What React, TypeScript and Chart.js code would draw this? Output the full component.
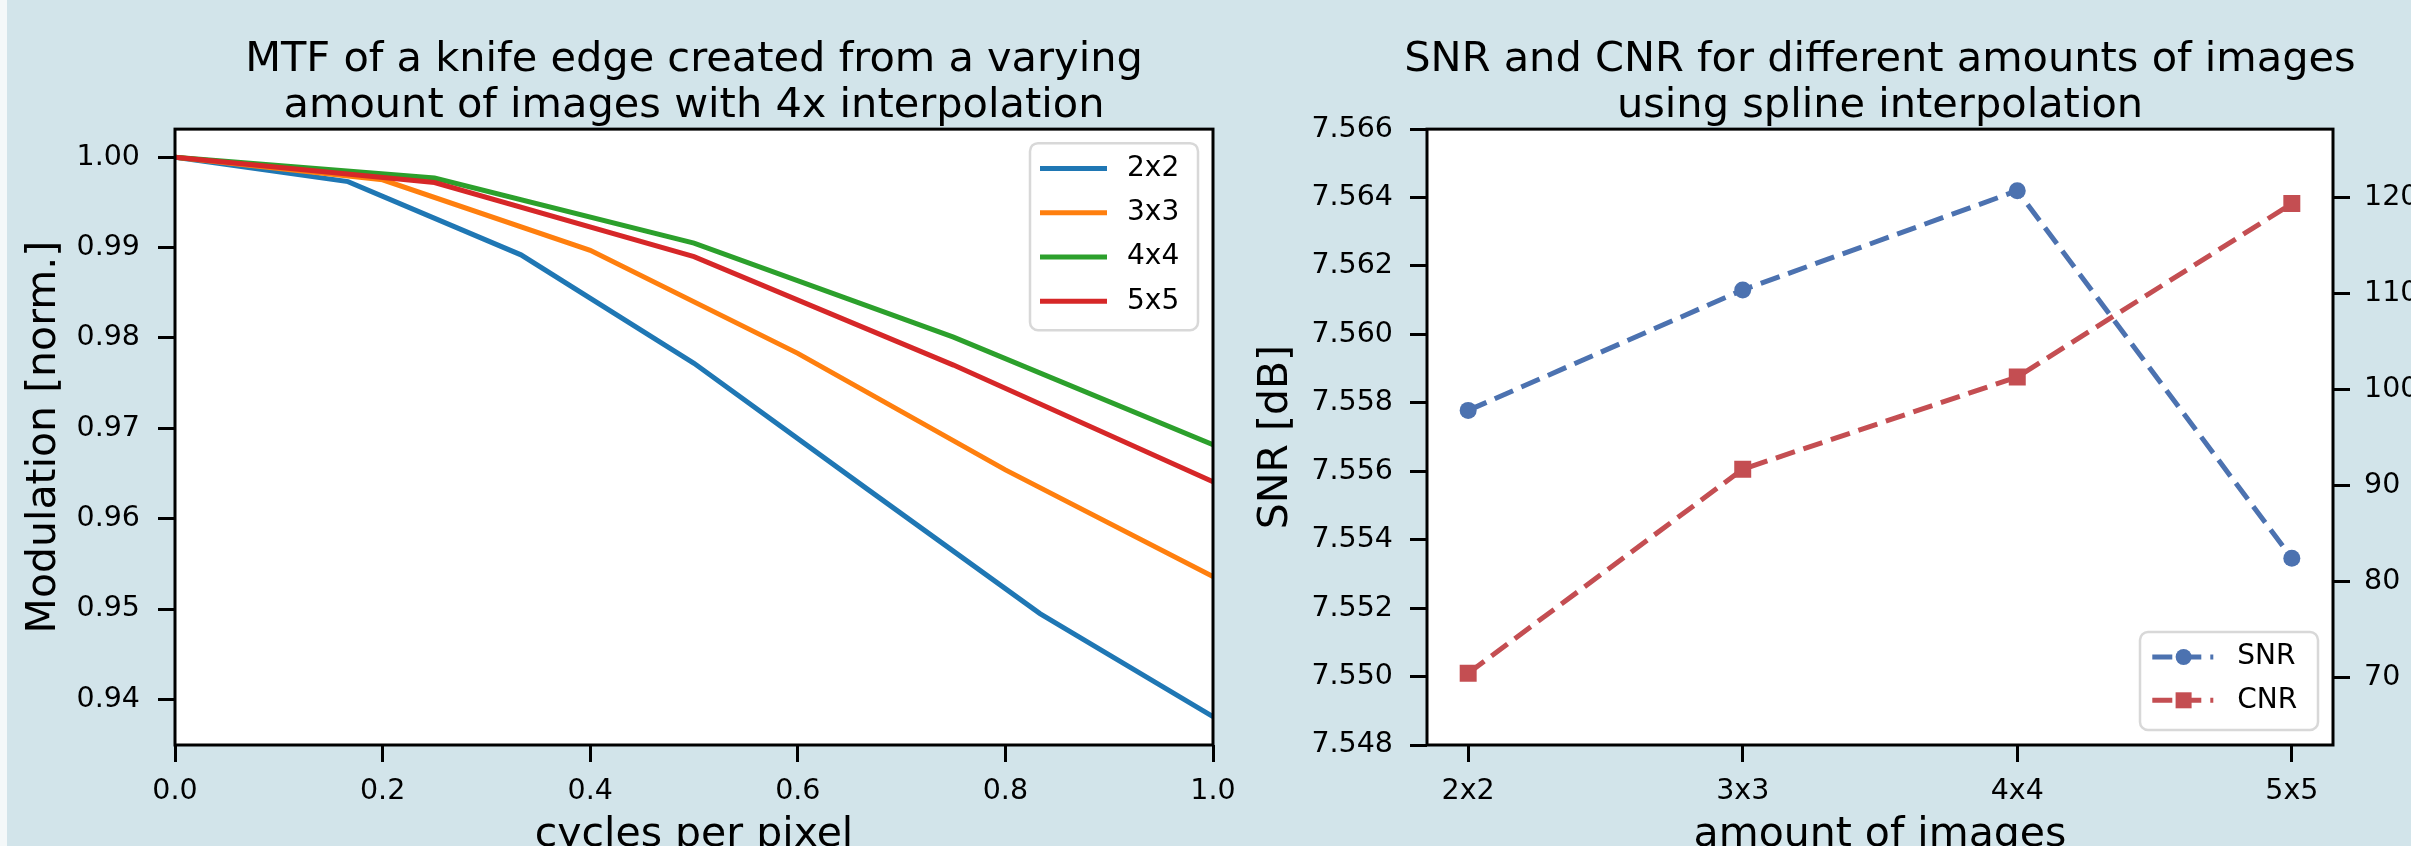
import React, { useEffect, useRef } from 'react';
import { Chart, registerables } from 'chart.js';

Chart.register(...registerables);

const FONT = '"DejaVu Sans", "Liberation Sans", Arial, sans-serif';
const PAGE_BG = '#d2e4ea';
const STRIP_BG = '#f4f8f9';

// ---------- Left chart: MTF ----------
const mtfTitle = ['MTF of a knife edge created from a varying', 'amount of images with 4x interpolation'];
const mtfXLabel = 'cycles per pixel';
const mtfYLabel = 'Modulation [norm.]';
const mtfLabels = ['2x2', '3x3', '4x4', '5x5'];
const mtfColors = ['#1f77b4', '#ff7f0e', '#2ca02c', '#d62728'];
const freq2x2 = [0, 0.1667, 0.3333, 0.5, 0.6667, 0.8333, 1.0];
const mtf2x2 = [1.0, 0.9973, 0.9892, 0.9772, 0.9633, 0.9495, 0.9381];
const freq3x3 = [0, 0.2, 0.4, 0.6, 0.8, 1.0];
const mtf3x3 = [1.0, 0.9975, 0.9897, 0.9783, 0.9654, 0.9536];
const freq4x4 = [0, 0.25, 0.5, 0.75, 1.0];
const mtf4x4 = [1.0, 0.9977, 0.9905, 0.9801, 0.9682];
const freq5x5 = [0, 0.25, 0.5, 0.75, 1.0];
const mtf5x5 = [1.0, 0.9972, 0.989, 0.977, 0.9641];
const mtfXTicks = [0, 0.2, 0.4, 0.6, 0.8, 1.0];
const mtfYTicks = [0.94, 0.95, 0.96, 0.97, 0.98, 0.99, 1.0];

// ---------- Right chart: SNR / CNR ----------
const snrTitle = ['SNR and CNR for different amounts of images', 'using spline interpolation'];
const snrXLabel = 'amount of images';
const snrYLabel = 'SNR [dB]';
const imageCounts = ['2x2', '3x3', '4x4', '5x5'];
const snrValues = [7.55778, 7.5613, 7.5642, 7.55346];
const cnrValues = [70.47, 91.7, 101.3, 119.35];
const snrTicks = [7.548, 7.55, 7.552, 7.554, 7.556, 7.558, 7.56, 7.562, 7.564, 7.566];
const cnrTicks = [70, 80, 90, 100, 110, 120];
const snrColor = '#4c72b0';
const cnrColor = '#c44e52';

const mtfFreqs = [freq2x2, freq3x3, freq4x4, freq5x5];
const mtfValues = [mtf2x2, mtf3x3, mtf4x4, mtf5x5];

const tickFont = { family: FONT, size: 28.5 };
const titleFont = { family: FONT, size: 41.5, lineHeight: 1.11, weight: 'normal' as const };
const axisFont = { family: FONT, size: 41, lineHeight: 1.12, weight: 'normal' as const };

const framePlugin = {
  id: 'frame',
  beforeDraw(chart: any) {
    const { ctx, chartArea: a } = chart;
    ctx.save();
    ctx.fillStyle = '#ffffff';
    ctx.fillRect(a.left, a.top, a.right - a.left, a.bottom - a.top);
    ctx.restore();
  },
  afterDatasetsDraw(chart: any) {
    const { ctx, chartArea: a } = chart;
    ctx.save();
    ctx.strokeStyle = '#000';
    ctx.lineWidth = 3;
    ctx.strokeRect(a.left, a.top, a.right - a.left, a.bottom - a.top);
    ctx.restore();
  },
};

function legendBox(ctx: CanvasRenderingContext2D, x: number, y: number, w: number, h: number) {
  ctx.save();
  ctx.beginPath();
  (ctx as any).roundRect(x, y, w, h, 8);
  ctx.fillStyle = 'rgba(255,255,255,0.85)';
  ctx.fill();
  ctx.strokeStyle = '#d8d8d8';
  ctx.lineWidth = 2.5;
  ctx.stroke();
  ctx.restore();
}

const mtfLegendPlugin = {
  id: 'mtfLegend',
  afterDraw(chart: any) {
    const { ctx, chartArea: a } = chart;
    const w = 168;
    const h = 187;
    const x0 = a.right - 15 - w;
    const y0 = a.top + 14;
    legendBox(ctx, x0, y0, w, h);
    ctx.save();
    ctx.font = `28px ${FONT}`;
    ctx.textBaseline = 'middle';
    ctx.textAlign = 'left';
    mtfLabels.forEach((label, i) => {
      const cy = y0 + 25.3 + i * 44.3;
      ctx.strokeStyle = mtfColors[i];
      ctx.lineWidth = 5;
      ctx.beginPath();
      ctx.moveTo(x0 + 10, cy);
      ctx.lineTo(x0 + 77, cy);
      ctx.stroke();
      ctx.fillStyle = '#000';
      ctx.fillText(label, x0 + 97, cy);
    });
    ctx.restore();
  },
};

const snrLegendPlugin = {
  id: 'snrLegend',
  afterDraw(chart: any) {
    const { ctx, chartArea: a } = chart;
    const w = 178;
    const h = 98;
    const x0 = a.right - 15 - w;
    const y0 = a.bottom - 15 - h;
    legendBox(ctx, x0, y0, w, h);
    const rows = [
      { label: 'SNR', color: snrColor, style: 'circle' },
      { label: 'CNR', color: cnrColor, style: 'rect' },
    ];
    ctx.save();
    ctx.font = `28px ${FONT}`;
    ctx.textBaseline = 'middle';
    ctx.textAlign = 'left';
    rows.forEach((r, i) => {
      const cy = y0 + 25 + i * 43.3;
      ctx.strokeStyle = r.color;
      ctx.lineWidth = 5;
      ctx.setLineDash([20, 9]);
      ctx.beginPath();
      ctx.moveTo(x0 + 12.3, cy);
      ctx.lineTo(x0 + 73.3, cy);
      ctx.stroke();
      ctx.setLineDash([]);
      ctx.fillStyle = r.color;
      const mx = x0 + 43.6;
      if (r.style === 'circle') {
        ctx.beginPath();
        ctx.arc(mx, cy, 8, 0, Math.PI * 2);
        ctx.fill();
      } else {
        ctx.fillRect(mx - 8, cy - 8, 16, 16);
      }
      ctx.fillStyle = '#000';
      ctx.fillText(r.label, x0 + 97.3, cy);
    });
    ctx.restore();
  },
};

const gridOpts = {
  drawOnChartArea: false,
  drawTicks: true,
  tickLength: 17,
  tickWidth: 3,
  tickColor: '#000',
};

function mtfConfig(): any {
  return {
    type: 'line',
    data: {
      datasets: mtfLabels.map((label, i) => ({
        label,
        data: mtfFreqs[i].map((x, j) => ({ x, y: mtfValues[i][j] })),
        borderColor: mtfColors[i],
        backgroundColor: mtfColors[i],
        borderWidth: 5,
        pointRadius: 0,
        fill: false,
        tension: 0,
        order: mtfLabels.length - 1 - i,
      })),
    },
    options: {
      responsive: false,
      maintainAspectRatio: false,
      animation: false,
      devicePixelRatio: 1,
      layout: { padding: { left: 0, right: 87, top: 0, bottom: 0 } },
      plugins: {
        legend: { display: false },
        tooltip: { enabled: false },
        title: {
          display: true,
          text: mtfTitle,
          fullSize: false,
          color: '#000',
          font: titleFont,
          padding: { top: 37, bottom: 0 },
        },
      },
      scales: {
        x: {
          type: 'linear',
          min: 0,
          max: 1,
          afterBuildTicks: (s: any) => {
            s.ticks = mtfXTicks.map((value) => ({ value }));
          },
          afterFit: (s: any) => {
            s.height = 135;
          },
          grid: gridOpts,
          border: { display: false },
          ticks: {
            font: tickFont,
            color: '#000',
            padding: 12,
            maxRotation: 0,
            autoSkip: false,
            callback: (v: any) => Number(v).toFixed(1),
          },
          title: {
            display: true,
            text: mtfXLabel,
            color: '#000',
            font: axisFont,
            padding: { top: 0, bottom: 22 },
          },
        },
        y: {
          type: 'linear',
          min: 0.93496,
          max: 1.00311,
          afterBuildTicks: (s: any) => {
            s.ticks = mtfYTicks.map((value) => ({ value }));
          },
          afterFit: (s: any) => {
            s.width = 175;
          },
          grid: gridOpts,
          border: { display: false },
          ticks: {
            font: tickFont,
            color: '#000',
            padding: 18,
            autoSkip: false,
            callback: (v: any) => Number(v).toFixed(2),
          },
          title: {
            display: true,
            text: mtfYLabel,
            color: '#000',
            font: axisFont,
            padding: { top: 21, bottom: 0 },
          },
        },
      },
    },
    plugins: [framePlugin, mtfLegendPlugin],
  };
}

function snrConfig(): any {
  return {
    type: 'line',
    data: {
      datasets: [
        {
          label: 'SNR',
          yAxisID: 'y',
          data: imageCounts.map((_, i) => ({ x: i, y: snrValues[i] })),
          borderColor: snrColor,
          backgroundColor: snrColor,
          borderWidth: 5,
          borderDash: [20, 9],
          pointStyle: 'circle',
          pointRadius: 8.5,
          pointBorderWidth: 0,
          pointBackgroundColor: snrColor,
          fill: false,
          tension: 0,
          order: 1,
        },
        {
          label: 'CNR',
          yAxisID: 'y1',
          data: imageCounts.map((_, i) => ({ x: i, y: cnrValues[i] })),
          borderColor: cnrColor,
          backgroundColor: cnrColor,
          borderWidth: 5,
          borderDash: [20, 9],
          pointStyle: 'rect',
          pointRadius: 12,
          pointBorderWidth: 0,
          pointBackgroundColor: cnrColor,
          fill: false,
          tension: 0,
          order: 0,
        },
      ],
    },
    options: {
      responsive: false,
      maintainAspectRatio: false,
      animation: false,
      devicePixelRatio: 1,
      layout: { padding: 0 },
      plugins: {
        legend: { display: false },
        tooltip: { enabled: false },
        title: {
          display: true,
          text: snrTitle,
          fullSize: true,
          color: '#000',
          font: titleFont,
          padding: { top: 37, bottom: 0 },
        },
      },
      scales: {
        x: {
          type: 'linear',
          min: -0.15,
          max: 3.15,
          afterBuildTicks: (s: any) => {
            s.ticks = imageCounts.map((_, i) => ({ value: i }));
          },
          afterFit: (s: any) => {
            s.height = 135;
          },
          grid: gridOpts,
          border: { display: false },
          ticks: {
            font: tickFont,
            color: '#000',
            padding: 12,
            maxRotation: 0,
            autoSkip: false,
            callback: (v: any) => imageCounts[Math.round(Number(v))] ?? '',
          },
          title: {
            display: true,
            text: snrXLabel,
            color: '#000',
            font: axisFont,
            padding: { top: 0, bottom: 22 },
          },
        },
        y: {
          type: 'linear',
          position: 'left',
          min: 7.548,
          max: 7.566,
          afterBuildTicks: (s: any) => {
            s.ticks = snrTicks.map((value) => ({ value }));
          },
          afterFit: (s: any) => {
            s.width = 197;
          },
          grid: gridOpts,
          border: { display: false },
          ticks: {
            font: tickFont,
            color: '#000',
            padding: 17,
            autoSkip: false,
            callback: (v: any) => Number(v).toFixed(3),
          },
          title: {
            display: true,
            text: snrYLabel,
            color: '#000',
            font: axisFont,
            padding: { top: 23, bottom: 0 },
          },
        },
        y1: {
          type: 'linear',
          position: 'right',
          min: 63.0,
          max: 127.1,
          afterBuildTicks: (s: any) => {
            s.ticks = cnrTicks.map((value) => ({ value }));
          },
          afterFit: (s: any) => {
            s.width = 197;
          },
          grid: gridOpts,
          border: { display: false },
          ticks: {
            font: tickFont,
            color: '#000',
            padding: 14,
            autoSkip: false,
            callback: (v: any) => String(Math.round(Number(v))),
          },
        },
      },
    },
    plugins: [framePlugin, snrLegendPlugin],
  };
}

function ChartCanvas(props: { left: number; width: number; height: number; makeConfig: () => any }) {
  const ref = useRef<HTMLCanvasElement>(null);
  useEffect(() => {
    const canvas = ref.current as HTMLCanvasElement;
    const chart = new Chart(canvas, props.makeConfig());
    return () => chart.destroy();
  }, []);
  return (
    <canvas
      ref={ref}
      width={props.width}
      height={props.height}
      style={{ position: 'absolute', left: props.left, top: 0, width: props.width, height: props.height }}
    />
  );
}

export default function App() {
  return (
    <>
      <style>{'html,body{margin:0;padding:0;overflow:hidden;}'}</style>
      <div
        style={{
          position: 'relative',
          width: 2411,
          height: 846,
          overflow: 'hidden',
          background: PAGE_BG,
        }}
      >
        <div style={{ position: 'absolute', left: 0, top: 0, width: 7, height: 846, background: STRIP_BG }} />
        <ChartCanvas left={0} width={1300} height={880} makeConfig={mtfConfig} />
        <ChartCanvas left={1230} width={1300} height={880} makeConfig={snrConfig} />
      </div>
    </>
  );
}
